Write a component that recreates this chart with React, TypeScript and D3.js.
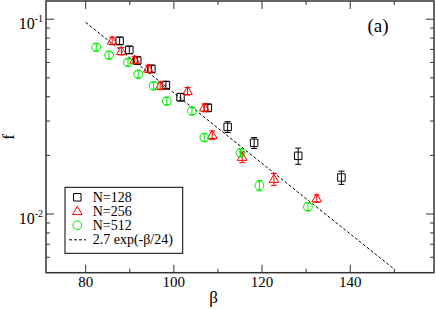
import * as d3 from 'd3'
import * as React from 'react'

//------------------------------data------------------------------
const beta128 = [87.7, 89.9, 91.7, 94.9, 98.2, 101.5, 107.7, 112.2, 118.2, 128.2, 138.0]
const f128 = [0.0774, 0.0696, 0.0614, 0.0556, 0.0459, 0.0398, 0.0351, 0.028, 0.0232, 0.0199, 0.0154]
const err128 = [0.0035, 0.0031, 0.0027, 0.0025, 0.0021, 0.0018, 0.0016, 0.0018, 0.0015, 0.0019, 0.0012]

const beta256 = [86.0, 88.1, 91.1, 94.2, 96.9, 103.1, 106.9, 108.7, 115.5, 122.7, 132.4]
const f256 = [0.0774, 0.0685, 0.0618, 0.0556, 0.0455, 0.0427, 0.0351, 0.0254, 0.0196, 0.0151, 0.012]
const err256 = [0.0034, 0.003, 0.0027, 0.0024, 0.002, 0.0019, 0.0016, 0.0013, 0.00125, 0.00106, 0.00054]

const beta512 = [82.4, 85.3, 89.6, 91.9, 95.4, 98.4, 104.1, 106.9, 115.1, 119.4, 130.4]
const f512 = [0.0718, 0.0654, 0.06, 0.0522, 0.0455, 0.038, 0.0338, 0.0247, 0.0206, 0.014, 0.0109]
const err512 = [0.003, 0.0027, 0.0025, 0.0022, 0.0019, 0.0016, 0.0014, 0.0011, 0.0009, 0.00084, 0.0005]

// fit f = A exp(-beta/tau), drawn over this beta range
const fitA = 2.7
const fitTau = 24
const fitRange = [80, 150]

const xMajor = [80, 100, 120, 140]
const xMinor = [90, 110, 130, 150]
const yMajor = [0.01, 0.1]
const yMajorExp = ['-2', '-1']
const yMinor = [0.006, 0.007, 0.008, 0.009, 0.02, 0.03, 0.04, 0.05, 0.06, 0.07, 0.08, 0.09]

const legendLabels = ['N=128', 'N=256', 'N=512', '2.7 exp(-\u03b2/24)']

//------------------------------layout------------------------------
const WIDTH = 436
const HEIGHT = 309
const M = { left: 46, right: 434, top: 1, bottom: 272.7 }
const FONT = '"Liberation Serif", "DejaVu Serif", serif'

const drawChart = (svgRef: React.RefObject<SVGSVGElement | null>) => {
  const svg = d3.select(svgRef.current)
  svg.selectAll('*').remove()

  const x = d3.scaleLinear().domain([71, 159]).range([M.left, M.right])
  const y = d3.scaleLog().domain([0.005, 0.124]).range([M.bottom, M.top])

  const axisColor = '#333'

  // ticks (inward, mirrored on all sides)
  const ticks = svg.append('g').attr('stroke', axisColor).attr('stroke-width', 1)
  const tickX = (vals: number[], len: number) => {
    vals.forEach(v => {
      ticks.append('line').attr('x1', x(v)).attr('x2', x(v)).attr('y1', M.bottom).attr('y2', M.bottom - len)
      ticks.append('line').attr('x1', x(v)).attr('x2', x(v)).attr('y1', M.top).attr('y2', M.top + len)
    })
  }
  const tickY = (vals: number[], len: number) => {
    vals.forEach(v => {
      ticks.append('line').attr('x1', M.left).attr('x2', M.left + len).attr('y1', y(v)).attr('y2', y(v))
      ticks.append('line').attr('x1', M.right).attr('x2', M.right - len).attr('y1', y(v)).attr('y2', y(v))
    })
  }
  tickX(xMajor, 8)
  tickX(xMinor, 4)
  tickY(yMajor, 8)
  tickY(yMinor, 4)

  // fit line
  svg
    .append('line')
    .attr('x1', x(fitRange[0]))
    .attr('y1', y(fitA * Math.exp(-fitRange[0] / fitTau)))
    .attr('x2', x(fitRange[1]))
    .attr('y2', y(fitA * Math.exp(-fitRange[1] / fitTau)))
    .attr('stroke', '#000')
    .attr('stroke-width', 1)
    .attr('stroke-dasharray', '3,2')

  // series
  const series = [
    { b: beta128, f: f128, e: err128, color: '#000', shape: 'square' },
    { b: beta256, f: f256, e: err256, color: '#ff0000', shape: 'triangle' },
    { b: beta512, f: f512, e: err512, color: '#00ee00', shape: 'circle' }
  ]
  const marker = (shape: string) => {
    if (shape === 'square') return d3.symbol().type(d3.symbolSquare).size(56)()
    if (shape === 'triangle') return d3.symbol().type(d3.symbolTriangle).size(40)()
    return d3.symbol().type(d3.symbolCircle).size(60)()
  }
  series.forEach(s => {
    const g = svg.append('g').attr('stroke', s.color).attr('fill', 'none').attr('stroke-width', 1)
    s.b.forEach((b, i) => {
      const cx = x(b)
      const cy = y(s.f[i])
      const yHi = y(s.f[i] + s.e[i])
      const yLo = y(s.f[i] - s.e[i])
      g.append('path')
        .attr('d', marker(s.shape))
        .attr('transform', `translate(${cx},${s.shape === 'triangle' ? cy + 0.5 : cy})`)
      g.append('line').attr('x1', cx).attr('x2', cx).attr('y1', yHi).attr('y2', yLo)
      g.append('line').attr('x1', cx - 3).attr('x2', cx + 3).attr('y1', yHi).attr('y2', yHi)
      g.append('line').attr('x1', cx - 3).attr('x2', cx + 3).attr('y1', yLo).attr('y2', yLo)
    })
  })

  // frame
  svg
    .append('rect')
    .attr('x', M.left)
    .attr('y', M.top)
    .attr('width', M.right - M.left)
    .attr('height', M.bottom - M.top)
    .attr('fill', 'none')
    .attr('stroke', axisColor)
    .attr('stroke-width', 1.5)

  // tick labels
  const labels = svg.append('g').attr('font-family', FONT).attr('fill', '#000')
  xMajor.forEach(v => {
    labels
      .append('text')
      .attr('x', x(v))
      .attr('y', 287)
      .attr('text-anchor', 'middle')
      .attr('font-size', 15)
      .text(v)
  })
  yMajor.forEach((v, i) => {
    const t = labels
      .append('text')
      .attr('x', 43)
      .attr('y', y(v) + 9.5)
      .attr('text-anchor', 'end')
      .attr('font-size', 16)
    t.append('tspan').text('10')
    t.append('tspan').attr('dy', -7).attr('font-size', 10).text(yMajorExp[i])
  })

  // axis titles
  labels
    .append('text')
    .attr('x', x(109))
    .attr('y', 303)
    .attr('text-anchor', 'middle')
    .attr('font-size', 17)
    .text('\u03b2')
  labels
    .append('text')
    .attr('transform', 'translate(14,137) rotate(-90)')
    .attr('text-anchor', 'middle')
    .attr('font-size', 17)
    .text('f')
  labels.append('text').attr('x', 378).attr('y', 32).attr('text-anchor', 'middle').attr('font-size', 19).text('(a)')

  // legend
  const lg = svg.append('g')
  lg.append('rect')
    .attr('x', 65)
    .attr('y', 187.3)
    .attr('width', 117.7)
    .attr('height', 66)
    .attr('fill', '#fff')
    .attr('stroke', '#000')
    .attr('stroke-width', 1)
  const rowY = [197.3, 211.3, 225.3, 239.8]
  series.forEach((s, i) => {
    lg.append('path')
      .attr('d', marker(s.shape))
      .attr('transform', `translate(77.3,${rowY[i] + (s.shape === 'triangle' ? 0.5 : 0)})`)
      .attr('fill', 'none')
      .attr('stroke', s.color)
      .attr('stroke-width', 1)
  })
  lg.append('line')
    .attr('x1', 69)
    .attr('x2', 86)
    .attr('y1', rowY[3])
    .attr('y2', rowY[3])
    .attr('stroke', '#000')
    .attr('stroke-dasharray', '3,2')
  legendLabels.forEach((l, i) => {
    lg.append('text')
      .attr('x', 92.7)
      .attr('y', rowY[i] + 4.5)
      .attr('font-family', FONT)
      .attr('font-size', 14)
      .text(l)
  })
}

//------------------------------Component------------------------------
export default function App() {
  const chartSvg = React.useRef<SVGSVGElement>(null)

  React.useEffect(() => {
    drawChart(chartSvg)
  }, [])

  return (
    <svg
      ref={chartSvg}
      width={WIDTH}
      height={HEIGHT}
      style={{ position: 'absolute', left: 0, top: 0, background: '#fff' }}
    />
  )
}
